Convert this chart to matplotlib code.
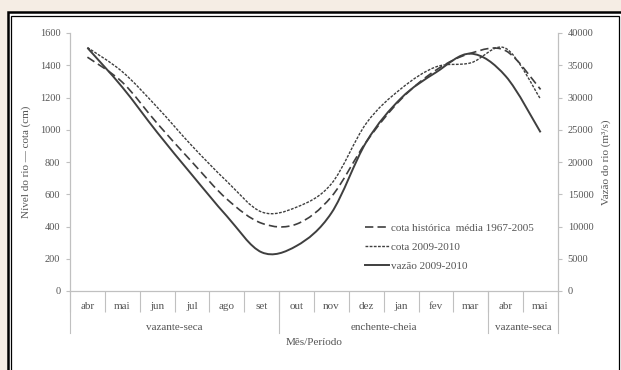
import matplotlib
matplotlib.use('Agg')
import matplotlib.pyplot as plt
from matplotlib.path import Path
from matplotlib.patches import PathPatch, Rectangle
from matplotlib.lines import Line2D
import matplotlib.transforms as mtransforms
import numpy as np

# dados
meses = ['abr', 'mai', 'jun', 'jul', 'ago', 'set', 'out', 'nov', 'dez', 'jan', 'fev', 'mar', 'abr', 'mai']
cota_historica = [1450, 1295, 1040, 800, 570, 420, 415, 585, 925, 1190, 1370, 1475, 1490, 1250]
cota_2009 = [1510, 1360, 1140, 900, 680, 490, 520, 665, 1040, 1255, 1390, 1415, 1505, 1190]
vazao_2009 = [37700, 31600, 24600, 18000, 11600, 6000, 7000, 12100, 23100, 29900, 33900, 36800, 33300, 24600]
periodos = ['vazante-seca', 'enchente-cheia', 'vazante-seca']
periodo_limites = [0, 6, 12, 14]

plt.rcParams['font.family'] = ['Liberation Serif', 'DejaVu Serif']
cor_texto = '#555555'
cor_eixo = '#c0c0c0'
cor_linha = '#3f3f3f'
fs = 8

W, H = 621, 370
fig = plt.figure(figsize=(W / 100, H / 100), dpi=100)
fig.patch.set_facecolor('#f5ede4')


def px(x, y):
    return x / W, 1 - y / H


# moldura
x0, y0 = px(7.5, 12)
fig.add_artist(Rectangle((x0, -0.1), 1.1, y0 + 0.1, transform=fig.transFigure,
                         facecolor='white', edgecolor='black', lw=1.8, zorder=-5))
x1, y1 = px(11, 15.5)
x2, _ = px(619, 0)
fig.add_artist(Rectangle((x1, -0.1), x2 - x1, y1 + 0.1, transform=fig.transFigure,
                         facecolor='none', edgecolor='black', lw=0.9, zorder=-4))

ax = fig.add_axes([70 / W, 1 - 291 / H, 488 / W, 258 / H])
ax.set_facecolor('white')
ax2 = ax.twinx()


# linha suavizada (estilo excel) com curvas bezier
def suave(axe, xs, ys, **kw):
    pts = np.column_stack([xs, ys]).astype(float)
    verts = [pts[0]]
    codes = [Path.MOVETO]
    n = len(pts)
    for i in range(n - 1):
        p0 = pts[i - 1] if i > 0 else pts[i]
        p1 = pts[i]
        p2 = pts[i + 1]
        p3 = pts[i + 2] if i + 2 < n else pts[i + 1]
        c1 = p1 + (p2 - p0) / 6
        c2 = p2 - (p3 - p1) / 6
        verts += [c1, c2, p2]
        codes += [Path.CURVE4] * 3
    patch = PathPatch(Path(verts, codes), fill=False, transform=axe.transData, **kw)
    axe.add_patch(patch)


xc = np.arange(len(meses)) + 0.5
ls_hist = (0, (5, 2.5))
ls_cota = (0, (2, 1))
suave(ax, xc, cota_historica, lw=1.2, ls=ls_hist, edgecolor=cor_linha)
suave(ax, xc, cota_2009, lw=1.0, ls=ls_cota, edgecolor=cor_linha)
suave(ax2, xc, vazao_2009, lw=1.4, edgecolor=cor_linha)

ax.set_xlim(0, len(meses))
ax.set_ylim(0, 1600)
ax2.set_ylim(0, 40000)
ax.set_yticks(range(0, 1601, 200))
ax2.set_yticks(range(0, 40001, 5000))

for a in (ax, ax2):
    for s in a.spines.values():
        s.set_color(cor_eixo)
        s.set_linewidth(0.8)
    a.spines['top'].set_visible(False)
    a.tick_params(axis='y', colors=cor_eixo, labelcolor=cor_texto, labelsize=7.5,
                  length=3, width=0.8, pad=4)

# eixo x por categorias
ax.set_xticks(range(len(meses) + 1))
ax.set_xticklabels([])
ax.set_xticks(xc, minor=True)
ax.set_xticklabels(meses, minor=True, fontsize=fs, color=cor_texto)
ax.tick_params(axis='x', which='major', direction='out', length=15, width=0.8, color=cor_eixo)
ax.tick_params(axis='x', which='minor', length=0, pad=8)

trans = mtransforms.blended_transform_factory(ax.transData, ax.transAxes)
for b in periodo_limites:
    ax.plot([b, b], [0, -0.163], transform=trans, color=cor_eixo, lw=0.8, clip_on=False)
for i, nome in enumerate(periodos):
    meio = (periodo_limites[i] + periodo_limites[i + 1]) / 2
    ax.text(meio, -0.14, nome, transform=trans, ha='center', va='center',
            fontsize=fs, color=cor_texto)

ax.text(0.5, -0.2, 'Mês/Período', transform=ax.transAxes, ha='center', va='center',
        fontsize=fs, color=cor_texto)
ax.set_ylabel('Nível do rio — cota (cm)', fontsize=fs, color=cor_texto, labelpad=6)
ax2.set_ylabel('Vazão do rio (m³/s)', fontsize=fs, color=cor_texto, labelpad=6)

handles = [Line2D([], [], color=cor_linha, lw=1.2, ls=ls_hist),
           Line2D([], [], color=cor_linha, lw=1.0, ls=ls_cota),
           Line2D([], [], color=cor_linha, lw=1.4)]
labels = ['cota histórica  média 1967-2005', 'cota 2009-2010', 'vazão 2009-2010']
ax2.legend(handles, labels, loc='upper left', bbox_to_anchor=(0.604, 0.262),
           frameon=False, fontsize=fs, handlelength=2.2, handletextpad=0.15,
           labelspacing=0.82, borderpad=0, borderaxespad=0, labelcolor=cor_texto)

fig.savefig('out.png', dpi=100, facecolor=fig.get_facecolor())
